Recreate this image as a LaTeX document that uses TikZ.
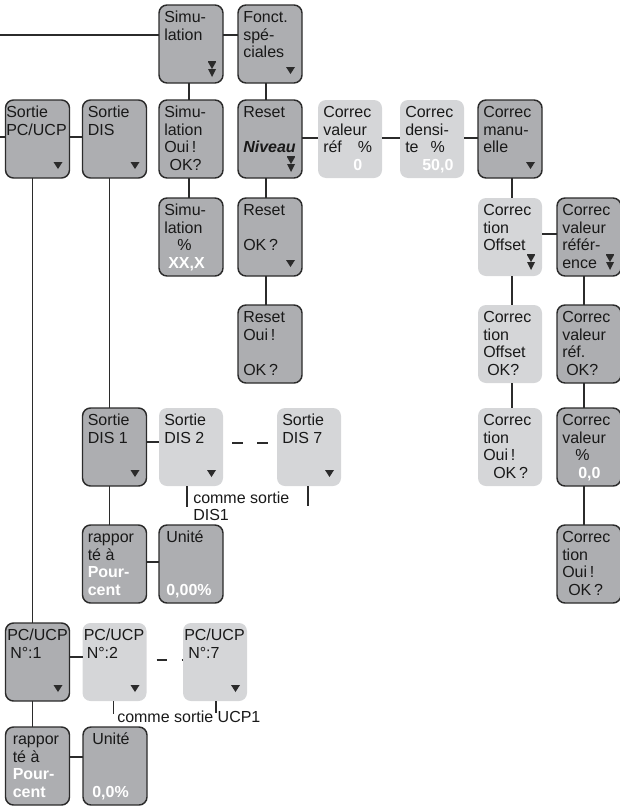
\documentclass[tikz,border=0pt]{standalone}
\usepackage{fontspec}
\setmainfont{Liberation Sans}
\usepackage{tikz}
\usetikzlibrary{calc}

\definecolor{grisfonce}{HTML}{ADAEB1}
\definecolor{grisclair}{HTML}{D5D6D8}
\definecolor{trait}{HTML}{2B2B2B}

\tikzset{
  sombre/.style={draw=trait, line width=1.1pt, fill=grisfonce, rounded corners=6pt,
    minimum width=48pt, minimum height=58.5pt, inner sep=0pt, outer sep=0pt, anchor=north west},
  clair/.style={fill=grisclair, rounded corners=6pt,
    minimum width=48pt, minimum height=58.5pt, inner sep=0pt, outer sep=0pt, anchor=north west},
  texte/.style={anchor=base west, inner sep=0pt, text=black!90, font=\fontsize{12}{13.125}\selectfont},
  liaison/.style={draw=trait, line width=0.9pt},
  tirets/.style={liaison, dash pattern=on 8.25pt off 10.5pt}
}

\newcommand{\blanc}[1]{\textcolor{white}{\bfseries #1}}
\newcommand{\boite}[5][5]{%
  \node[#3] (#2) at (#4) {};
  \node[texte] (#2-t) at ($(#2.north west)+(#1,17.5)$) {\begin{tabular}[t]{@{}l@{}}#5\end{tabular}};}
\newcommand{\fleche}[1]{%
  \fill[trait] ($(#1.south east)+(-16,-16)$) -- ++(9,0) -- ++(-4.5,7) -- cycle;}
\newcommand{\flechedouble}[1]{%
  \fill[trait] ($(#1.south east)+(-15,-22.5)$) rectangle ++(8,1.8);
  \fill[trait] ($(#1.south east)+(-15,-21)$) -- ++(8,0) -- ++(-4,7) -- cycle;
  \fill[trait] ($(#1.south east)+(-15,-14)$) -- ++(8,0) -- ++(-4,8) -- cycle;}

\begin{document}
\begin{tikzpicture}[x=0.75pt, y=-0.75pt]
  \useasboundingbox (0,0) rectangle (619,810);

  \boite{sim}{sombre}{159,5}{Simu-\\lation}
  \boite{fonct}{sombre}{238,5}{Fonct.\\spé-\\ciales}

  \boite[0.5]{sortiepc}{sombre}{5.5,100}{Sortie\\PC/UCP}
  \boite{sortiedis}{sombre}{82.5,100}{Sortie\\DIS}
  \boite{simoui}{sombre}{159,100}{Simu-\\lation\\Oui\,!\\\hspace*{4pt}OK?}
  \boite{resetniv}{sombre}{238,100}{Reset\\ \\\textbf{\textit{Niveau}}}
  \boite{corrvalref}{clair}{318,100}{Correc\\valeur\\réf\hspace*{12pt}\%\\\hspace*{22.5pt}\blanc{0}}
  \boite{corrdens}{clair}{400,100}{Correc\\densi-\\te\hspace*{9pt}\%\\\hspace*{12.75pt}\blanc{50,0}}
  \boite{corrman}{sombre}{478,100}{Correc\\manu-\\elle}

  \boite{simpct}{sombre}{159,198}{Simu-\\lation\\\hspace*{9.75pt}\%\\\hspace*{3pt}\blanc{XX,X}}
  \boite{resetok}{sombre}{238,198}{Reset\\ \\OK\,?}
  \boite{corroff}{clair}{478,198}{Correc\\tion\\Offset}
  \boite{corrvref}{sombre}{557,198}{Correc\\valeur\\référ-\\ence}

  \boite{resetoui}{sombre}{238,305}{Reset\\Oui\,!\\ \\OK\,?}
  \boite{corroffok}{clair}{478,305}{Correc\\tion\\Offset\\\hspace*{3pt}OK?}
  \boite{corrvrefok}{sombre}{557,305}{Correc\\valeur\\réf.\\\hspace*{3pt}OK?}

  \boite{corroui}{clair}{478,408}{Correc\\tion\\Oui\,!\\\hspace*{7.5pt}OK\,?}
  \boite{corrvpct}{sombre}{557,408}{Correc\\valeur\\\hspace*{9.75pt}\%\\\hspace*{12pt}\blanc{0,0}}
  \boite{corrvoui}{sombre}{557,525}{Correc\\tion\\Oui\,!\\\hspace*{4.5pt}OK\,?}

  \boite{dis1}{sombre}{82.5,408}{Sortie\\DIS 1}
  \boite{dis2}{clair}{159,408}{Sortie\\DIS 2}
  \boite{dis7}{clair}{277,408}{Sortie\\DIS 7}
  \boite{rapdis}{sombre}{82.5,525}{rappor\\té à\\\blanc{Pour-}\\\blanc{cent}}
  \boite[7]{unitedis}{sombre}{159,525}{Unité\\ \\ \\\blanc{0,00\%}}

  \boite[1.5]{ucp1}{sombre}{5.5,623}{PC/UCP\\\hspace*{2.25pt}N°:1}
  \boite[1]{ucp2}{clair}{82.5,623}{PC/UCP\\\hspace*{2.25pt}N°:2}
  \boite[1]{ucp7}{clair}{183,623}{PC/UCP\\\hspace*{3pt}N°:7}
  \boite[7]{rapucp}{sombre}{5.5,727}{rappor\\té à\\\blanc{Pour-}\\\blanc{cent}}
  \boite[9]{uniteucp}{sombre}{83,727}{Unité\\ \\ \\\blanc{0,0\%}}

  \flechedouble{sim}
  \flechedouble{resetniv}
  \flechedouble{corroff}
  \flechedouble{corrvref}
  \fleche{fonct}
  \fleche{sortiepc}
  \fleche{sortiedis}
  \fleche{corrman}
  \fleche{resetok}
  \fleche{dis1}
  \fleche{dis2}
  \fleche{dis7}
  \fleche{ucp1}
  \fleche{ucp2}
  \fleche{ucp7}

  % entrees
  \coordinate (entree-haut) at (0,35);
  \coordinate (entree-gauche) at (0,137);
  \draw[liaison] (entree-haut) -- (entree-haut -| sim.west);
  \draw[liaison] (sim.east |- entree-haut) -- (fonct.west |- entree-haut);
  \draw[liaison] (entree-gauche) -- (entree-gauche -| sortiepc.west);
  \draw[liaison] (sortiepc.east |- entree-gauche) -- (sortiedis.west |- entree-gauche);

  % horizontales
  \draw[liaison] ($(resetniv.north east)+(0,38)$) -- ($(corrvalref.north west)+(0,38)$);
  \draw[liaison] ($(corrvalref.north east)+(0,38)$) -- ($(corrdens.north west)+(0,38)$);
  \draw[liaison] ($(corrdens.north east)+(0,38)$) -- ($(corrman.north west)+(0,38)$);
  \draw[liaison] ($(corroff.north east)+(0,36)$) -- ($(corrvref.north west)+(0,36)$);
  \draw[liaison] ($(dis1.north east)+(0,34)$) -- ($(dis2.north west)+(0,34)$);
  \draw[liaison] ($(rapdis.north east)+(0,37)$) -- ($(unitedis.north west)+(0,37)$);
  \draw[liaison] ($(ucp1.north east)+(0,34)$) -- ($(ucp2.north west)+(0,34)$);
  \draw[liaison] ($(rapucp.north east)+(0,30)$) -- ($(uniteucp.north west)+(0,30)$);
  \draw[tirets] ($(dis2.north east)+(9,35)$) -- ($(dis7.north west)+(-9,35)$);
  \draw[liaison, dash pattern=on 7.5pt off 11.25pt] ($(ucp2.north east)+(10,37)$) -- ($(ucp7.north west)+(0,37)$);

  % verticales
  \draw[liaison] ($(sim.south west)+(30,0)$) -- ($(simoui.north west)+(30,0)$);
  \draw[liaison] ($(simoui.south west)+(30,0)$) -- ($(simpct.north west)+(30,0)$);
  \draw[liaison] ($(fonct.south west)+(28,0)$) -- ($(resetniv.north west)+(28,0)$);
  \draw[liaison] ($(resetniv.south west)+(28,0)$) -- ($(resetok.north west)+(28,0)$);
  \draw[liaison] ($(resetok.south west)+(28,0)$) -- ($(resetoui.north west)+(28,0)$);
  \draw[liaison] ($(corrman.south west)+(34,0)$) -- ($(corroff.north west)+(34,0)$);
  \draw[liaison] ($(corroff.south west)+(34,0)$) -- ($(corroffok.north west)+(34,0)$);
  \draw[liaison] ($(corroffok.south west)+(34,0)$) -- ($(corroui.north west)+(34,0)$);
  \draw[liaison] ($(corrvref.south west)+(27,0)$) -- ($(corrvrefok.north west)+(27,0)$);
  \draw[liaison] ($(corrvrefok.south west)+(27,0)$) -- ($(corrvpct.north west)+(27,0)$);
  \draw[liaison] ($(corrvpct.south west)+(27,0)$) -- ($(corrvoui.north west)+(27,0)$);
  \draw[liaison] ($(sortiedis.south west)+(27,0)$) -- ($(dis1.north west)+(27,0)$);
  \draw[liaison] ($(dis1.south west)+(27,0)$) -- ($(rapdis.north west)+(27,0)$);
  \draw[liaison] ($(sortiepc.south west)+(27,0)$) -- ($(ucp1.north west)+(27,0)$);
  \draw[liaison] ($(ucp1.south west)+(27,0)$) -- ($(rapucp.north west)+(27,0)$);

  % renvois
  \coordinate (renvoi-dis2) at ($(dis2.south west)+(28,21)$);
  \coordinate (renvoi-dis7) at ($(dis7.south west)+(31,20)$);
  \coordinate (renvoi-ucp2) at ($(ucp2.south west)+(31,13)$);
  \coordinate (renvoi-ucp7) at ($(ucp7.south west)+(33,12)$);
  \draw[liaison] (dis2.south west -| renvoi-dis2) -- (renvoi-dis2);
  \draw[liaison] (dis7.south west -| renvoi-dis7) -- (renvoi-dis7);
  \draw[liaison] (ucp2.south west -| renvoi-ucp2) -- (renvoi-ucp2);
  \draw[liaison] (ucp7.south west -| renvoi-ucp7) -- (renvoi-ucp7);
  \node[texte] (note-dis) at (193,503) {\begin{tabular}[t]{@{}l@{}}comme sortie\\DIS1\end{tabular}};
  \node[texte] (note-ucp) at (117,722) {comme sortie UCP1};
\end{tikzpicture}
\end{document}
